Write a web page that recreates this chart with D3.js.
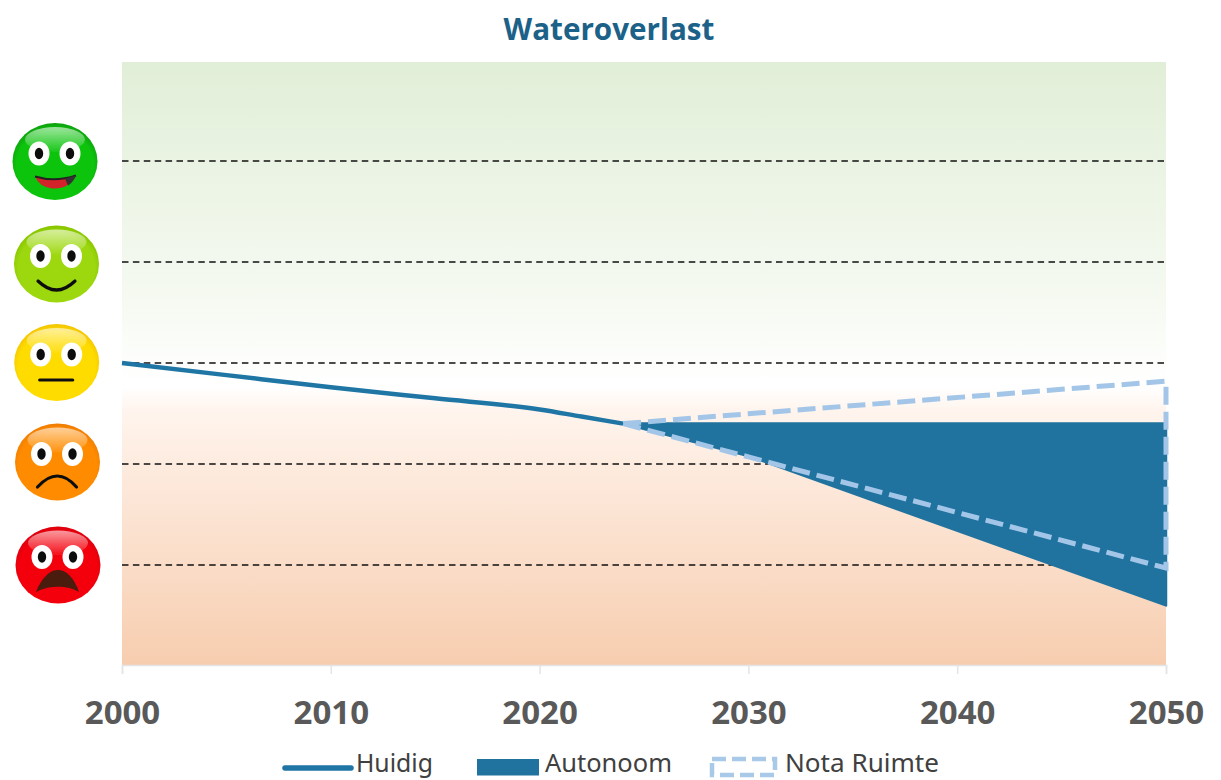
<!DOCTYPE html>
<html><head><meta charset="utf-8">
<script src="https://cdn.jsdelivr.net/npm/d3@7"></script>
<style>html,body{margin:0;padding:0;background:#fff;overflow:hidden}svg{display:block}</style>
</head><body><svg id="c" width="1221" height="780"></svg>
<script>
const chartTitle = "Wateroverlast";
const tickYears = [2000, 2010, 2020, 2030, 2040, 2050];
const gridLevels = [2, 1, 0, -1, -2];
const bandTop = 2.98;
const bandBottom = -2.99;
const huidigYears = [2000, 2005, 2010, 2015, 2020, 2022, 2024];
const huidigValues = [0, -0.12, -0.24, -0.35, -0.46, -0.53, -0.6];
const autonoomTopYears = [2024, 2050];
const autonoomTopValues = [-0.6, -0.6];
const autonoomBottomYears = [2024, 2030, 2050];
const autonoomBottomValues = [-0.6, -0.92, -2.4];
const notaTopYears = [2024, 2050];
const notaTopValues = [-0.6, -0.18];
const notaBottomYears = [2024, 2030, 2050];
const notaBottomValues = [-0.6, -0.93, -2.03];
const faceLevels = [2, 1, 0, -1, -2];
const faceColors = ["#0cc40c", "#9cd80c", "#ffdc00", "#ff8c00", "#f4000c"];
const faceDark = ["#0aa00a", "#86c400", "#f2c400", "#f07c00", "#dc0010"];
const legendLabels = ["Huidig", "Autonoom", "Nota Ruimte"];

const svg = d3.select("#c");
const x = d3.scaleLinear().domain([2000, 2050]).range([122, 1166]);
const y = d3.scaleLinear().domain([-2, 2]).range([565, 161]);
const defs = svg.append("defs");

const bg = defs.append("linearGradient").attr("id","bg").attr("x1",0).attr("y1",0).attr("x2",0).attr("y2",1);
[[0,"#e1eed7"],[0.18,"#ebf4e4"],[0.4,"#f6faf2"],[0.5,"#fdfefc"],[0.54,"#ffffff"],[0.575,"#fff5ee"],[0.68,"#fdeadd"],[0.85,"#fadbc5"],[1,"#f7cdaf"]]
 .forEach(d=>bg.append("stop").attr("offset",d[0]).attr("stop-color",d[1]));
const soft = defs.append("filter").attr("id","soft").attr("x","-5%").attr("y","-5%").attr("width","110%").attr("height","110%");
soft.append("feGaussianBlur").attr("stdDeviation",0.7);

svg.append("rect").attr("x",x(2000)).attr("y",y(bandTop)).attr("width",x(2050)-x(2000)).attr("height",y(bandBottom)-y(bandTop)).attr("fill","url(#bg)");

// axis
const axis = d3.axisBottom(x).tickValues(tickYears).tickFormat(d3.format("d")).tickSize(9).tickPadding(27);
const ax = svg.append("g").attr("transform",`translate(0,${y(bandBottom)})`).call(axis);
ax.select(".domain").attr("stroke","#e4e4e4").attr("stroke-width",1.5);
ax.selectAll(".tick line").attr("stroke","#e4e4e4").attr("stroke-width",1.5);
ax.selectAll("text").attr("fill","#595959").attr("font-family","'Open Sans',sans-serif").attr("font-weight",700).attr("font-size",33);

// grid
svg.append("g").selectAll("line").data(gridLevels).join("line")
 .attr("x1",x(2000)).attr("x2",x(2050)).attr("y1",d=>y(d)).attr("y2",d=>y(d))
 .attr("stroke","#111").attr("stroke-width",1.3).attr("stroke-dasharray","6.5 4.4");

const zip=(a,b)=>a.map((d,i)=>[d,b[i]]);
const line=d3.line().x(d=>x(d[0])).y(d=>y(d[1]));
const autoPts=zip(autonoomTopYears,autonoomTopValues).concat(zip(autonoomBottomYears,autonoomBottomValues).reverse());
svg.append("path").attr("d",line(autoPts)+"Z").attr("fill","#20739f").attr("stroke","#20739f").attr("stroke-width",2.5).attr("stroke-linejoin","round");

svg.append("path").attr("d",d3.line().curve(d3.curveMonotoneX).x(d=>x(d[0])).y(d=>y(d[1]))(zip(huidigYears,huidigValues))).attr("fill","none").attr("stroke","#1f76a5").attr("stroke-width",4.5);

const notaPts=zip(notaTopYears,notaTopValues).concat(zip(notaBottomYears,notaBottomValues).reverse());
svg.append("path").attr("d",line(notaPts)+"Z").attr("fill","none").attr("stroke","#a3c6e8").attr("stroke-width",5).attr("stroke-dasharray","18 7");

// title
svg.append("text").attr("x",609).attr("y",40).attr("text-anchor","middle").attr("fill","#1b6188")
 .attr("font-family","'Open Sans',sans-serif").attr("font-weight",700).attr("font-size",29.6).text(chartTitle);

// faces
faceColors.forEach((c,i)=>{
 const g=defs.append("radialGradient").attr("id","f"+i).attr("cx",0.5).attr("cy",0.55).attr("r",0.55);
 g.append("stop").attr("offset",0).attr("stop-color",c);
 g.append("stop").attr("offset",0.82).attr("stop-color",c);
 g.append("stop").attr("offset",1).attr("stop-color",faceDark[i]);
});
const gl=defs.append("linearGradient").attr("id","gl").attr("x1",0).attr("y1",0).attr("x2",0).attr("y2",1);
gl.append("stop").attr("offset",0).attr("stop-color","#fff").attr("stop-opacity",0.6);
gl.append("stop").attr("offset",1).attr("stop-color","#fff").attr("stop-opacity",0.05);

const faceX=[55,56.5,56.7,57.5,58], faceDy=[0.5,2,-0.5,-2,0];
const faces=svg.append("g").attr("filter","url(#soft)").selectAll("g").data(faceLevels).join("g")
 .attr("transform",(d,i)=>`translate(${faceX[i]},${y(d)+faceDy[i]})`);
faces.append("ellipse").attr("rx",42.5).attr("ry",38.5).attr("fill",(d,i)=>`url(#f${i})`);
faces.append("ellipse").attr("cy",-22).attr("rx",30).attr("ry",12.5).attr("fill","url(#gl)");
[-16,15].forEach(ex=>{
 faces.append("ellipse").attr("cx",ex).attr("cy",-8).attr("rx",10.5).attr("ry",12).attr("fill","#fff");
 faces.append("ellipse").attr("cx",ex).attr("cy",-8).attr("rx",4.2).attr("ry",5.8).attr("fill","#111");
});
faces.each(function(d,i){
 const f=d3.select(this);
 if(i===0){
  f.append("path").attr("d","M-20,15 Q0,21 21,14 Q14,28 -3,27 Q-16,25 -20,15Z").attr("fill","#d4202c");
  f.append("path").attr("d","M-20,15 Q0,21 21,14").attr("fill","none").attr("stroke","#222").attr("stroke-width",2);
  f.append("path").attr("d","M10,17 L21,14 Q18,21 13,24Z").attr("fill","#333");
 } else if(i===1){
  f.append("path").attr("d","M-18.5,17 Q0,35 18.5,17").attr("fill","none").attr("stroke","#111").attr("stroke-width",3.2).attr("stroke-linecap","round");
 } else if(i===2){
  f.append("line").attr("x1",-17).attr("x2",16).attr("y1",17.5).attr("y2",17.5).attr("stroke","#111").attr("stroke-width",3.2).attr("stroke-linecap","round");
 } else if(i===3){
  f.append("path").attr("d","M-20,25 Q0,3 19,25").attr("fill","none").attr("stroke","#111").attr("stroke-width",3.2).attr("stroke-linecap","round");
 } else {
  f.append("path").attr("d","M-22,27 C-16,12 -8,5 0,5 C8,5 16,12 21,27 C10,20 -10,20 -22,27Z").attr("fill","#4a1a10");
 }
});

// legend
const lf="'Noto Sans',sans-serif";
const lg=svg.append("g");
lg.append("line").attr("x1",285).attr("x2",351).attr("y1",768).attr("y2",768).attr("stroke","#1f76a5").attr("stroke-width",5.5).attr("stroke-linecap","round");
lg.append("rect").attr("x",477).attr("y",759).attr("width",62).attr("height",16.5).attr("fill","#20739f");
lg.append("rect").attr("x",712).attr("y",759).attr("width",63).attr("height",16).attr("fill","none").attr("stroke","#a9c9e8").attr("stroke-width",4.5).attr("stroke-dasharray","14 6");
const lx=[356,545,785], lw=[77,127,154];
lg.selectAll("text").data(legendLabels).join("text")
 .attr("x",(d,i)=>lx[i]).attr("y",772).attr("fill","#404040").attr("font-family",lf).attr("font-size",24.5)
 .attr("textLength",(d,i)=>lw[i]).attr("lengthAdjust","spacingAndGlyphs").text(d=>d);
</script></body></html>
